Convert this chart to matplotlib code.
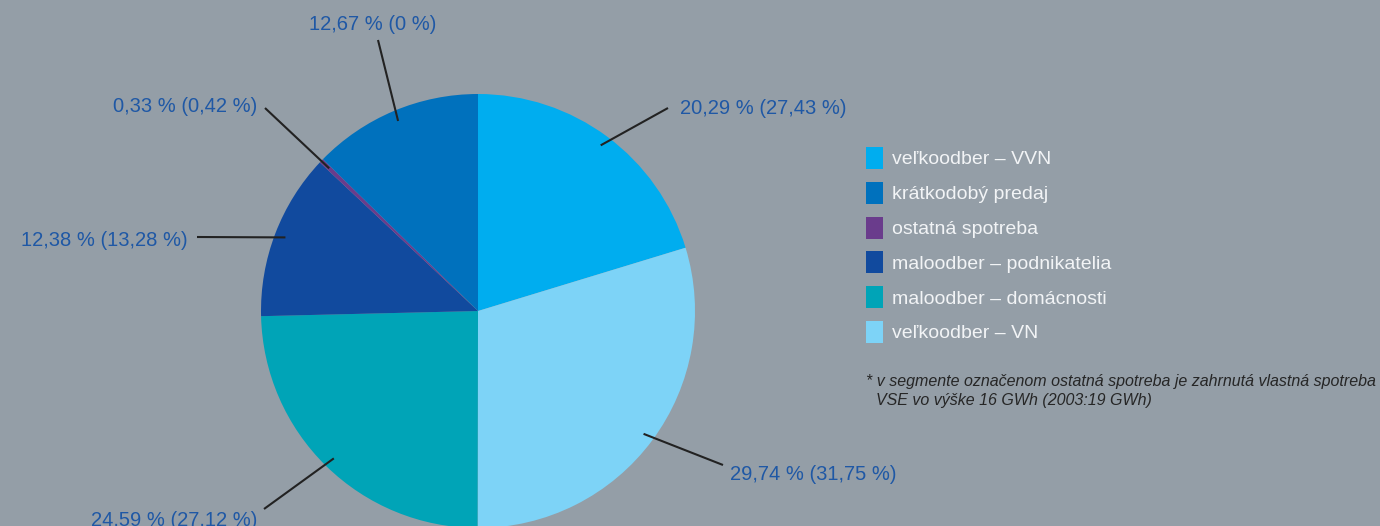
import numpy as np
import matplotlib.pyplot as plt
from matplotlib.patches import Rectangle

plt.rcParams['font.family'] = ['Liberation Sans', 'DejaVu Sans']

# slices in drawing order (clockwise from 12 o'clock)
categories = ['veľkoodber – VVN', 'veľkoodber – VN', 'maloodber – domácnosti',
              'maloodber – podnikatelia', 'ostatná spotreba', 'krátkodobý predaj']
shares = [20.29, 29.74, 24.59, 12.38, 0.33, 12.67]
shares_prev = ['27,43', '31,75', '27,12', '13,28', '0,42', '0']
colors = ['#00adef', '#7dd3f7', '#00a4b7', '#114a9e', '#6a3c8c', '#0071bd']

legend_order = ['veľkoodber – VVN', 'krátkodobý predaj', 'ostatná spotreba',
                'maloodber – podnikatelia', 'maloodber – domácnosti', 'veľkoodber – VN']

bg = '#949ea7'
label_color = '#1f58a5'

W, H = 1380, 526
fig = plt.figure(figsize=(W / 100, H / 100), dpi=100, facecolor=bg)
ax = fig.add_axes([0, 0, 1, 1])

cx, cy, R = 478, H - 311, 217
wedges, _ = ax.pie(shares, colors=colors, startangle=90, counterclock=False,
                   center=(cx, cy), radius=R, frame=True,
                   wedgeprops=dict(linewidth=0))
ax.set_xlim(0, W)
ax.set_ylim(0, H)
ax.set_aspect('equal')
ax.axis('off')

# leader line end points and text anchors (pixel coords from top)
line_end = [(668, 108), (723, 465), (264, 509), (197, 237), (265, 108), (378, 40)]
text_pos = [(680, 107, 'left'), (730, 473, 'left'), (257, 519, 'right'),
            (188, 239, 'right'), (257, 105, 'right'), (373, 23, 'center')]

for w, share, prev, (lx, ly), (tx, ty, ha) in zip(wedges, shares, shares_prev, line_end, text_pos):
    ang = np.deg2rad((w.theta1 + w.theta2) / 2)
    r0 = 0.95 * R
    x0, y0 = cx + r0 * np.cos(ang), cy + r0 * np.sin(ang)
    ax.plot([x0, lx], [y0, H - ly], color='#222222', lw=1.5, solid_capstyle='butt')
    txt = f'{share:.2f}'.replace('.', ',') + f' % ({prev} %)'
    ax.text(tx, H - ty, txt, ha=ha, va='center_baseline', fontsize=14.5, color=label_color)

# legend
for i, name in enumerate(legend_order):
    yc = H - (158 + i * 34.8)
    c = colors[categories.index(name)]
    ax.add_patch(Rectangle((866, yc - 11), 17, 22, facecolor=c, edgecolor='none'))
    ax.text(892, yc, name, ha='left', va='center_baseline', fontsize=14, color='#f2f4f6')

ax.text(866, H - 380, '* v segmente označenom ostatná spotreba je zahrnutá vlastná spotreba',
        ha='left', va='center_baseline', fontsize=11.5, style='italic', color='#262626')
ax.text(876, H - 399, 'VSE vo výške 16 GWh (2003:19 GWh)',
        ha='left', va='center_baseline', fontsize=11.5, style='italic', color='#262626')

fig.savefig('out.png', dpi=100, facecolor=bg)
